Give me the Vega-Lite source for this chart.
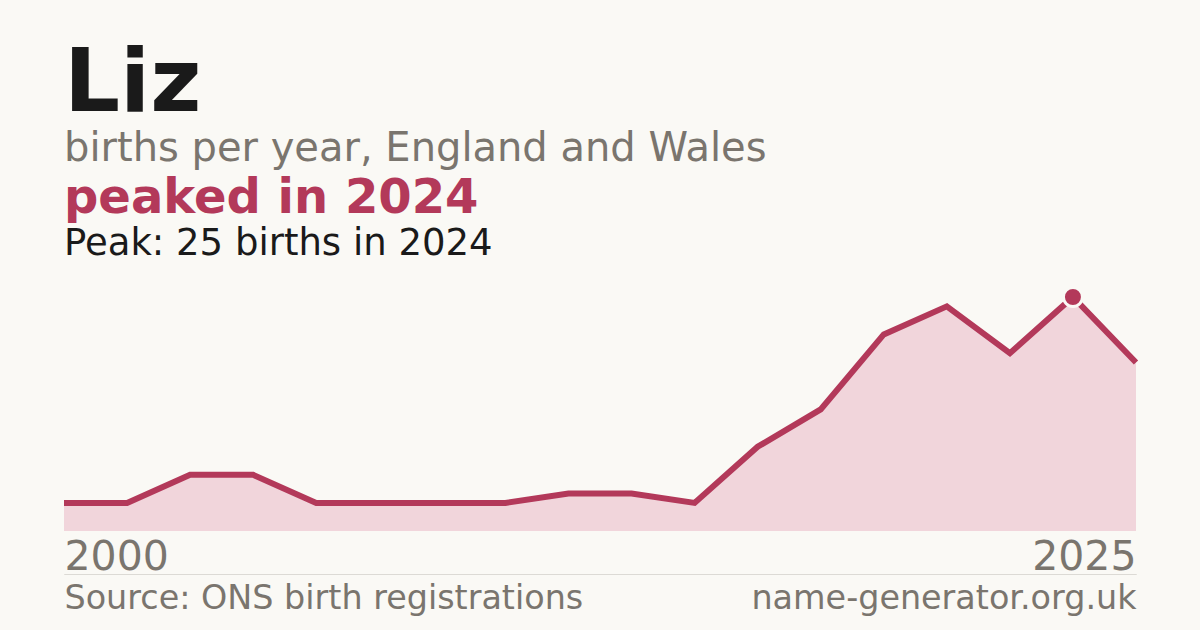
{
  "$schema": "https://vega.github.io/schema/vega-lite/v6.json",
  "background": "#faf9f5",
  "padding": {"left": 52, "right": 52, "top": 40, "bottom": 30},
  "config": {"font": "DejaVu Sans", "view": {"stroke": null}, "concat": {"spacing": 0}},
  "title": {
    "text": "Liz",
    "subtitle": "births per year, England and Wales",
    "anchor": "start",
    "dx": 12,
    "fontSize": 88,
    "fontWeight": "bold",
    "color": "#1a1a1a",
    "subtitleFontSize": 40,
    "subtitleColor": "#7a756e",
    "subtitleFont": "DejaVu Sans",
    "subtitlePadding": 0,
    "offset": 6
  },
  "data": {
    "values": [
      {"year": 2000, "births": 3},
      {"year": 2002, "births": 3},
      {"year": 2003, "births": 6},
      {"year": 2005, "births": 6},
      {"year": 2006, "births": 3},
      {"year": 2008, "births": 3},
      {"year": 2009, "births": 3},
      {"year": 2011, "births": 3},
      {"year": 2012, "births": 4},
      {"year": 2014, "births": 4},
      {"year": 2015, "births": 3},
      {"year": 2017, "births": 9},
      {"year": 2018, "births": 13},
      {"year": 2020, "births": 21},
      {"year": 2021, "births": 24},
      {"year": 2023, "births": 19},
      {"year": 2024, "births": 25},
      {"year": 2025, "births": 18}
    ]
  },
  "vconcat": [
    {
      "width": 1072,
      "height": 234,
      "title": {
        "text": "peaked in 2024",
        "subtitle": "Peak: 25 births in 2024",
        "anchor": "start",
        "dx": 12,
        "fontSize": 48,
        "fontWeight": "bold",
        "color": "#b3395a",
        "subtitleFontSize": 37,
        "subtitleColor": "#1a1a1a",
        "subtitleFont": "DejaVu Sans",
        "subtitlePadding": 3,
        "offset": 20
      },
      "encoding": {
        "y": {"field": "births", "type": "quantitative", "scale": {"domain": [0, 25], "nice": false, "zero": true}, "axis": null}
      },
      "layer": [
        {
          "mark": {"type": "area", "color": "#f1d5db", "opacity": 1},
          "encoding": {
            "x": {
              "field": "year", "type": "ordinal",
              "scale": {"type": "point", "padding": 0},
              "axis": {
                "orient": "bottom",
                "values": [2000, 2025],
                "domain": false, "ticks": false, "tickSize": 0, "grid": false,
                "labelFontSize": 41, "labelColor": "#7a756e",
                "labelBaseline": "alphabetic", "labelPadding": 38, "labelAngle": 0,
                "labelOverlap": false,
                "labelAlign": {"condition": {"test": "datum.value == 2000", "value": "left"}, "value": "right"},
                "title": null
              }
            }
          }
        },
        {
          "mark": {"type": "line", "color": "#b3395a", "strokeWidth": 6},
          "encoding": {
            "x": {
              "field": "year", "type": "ordinal",
              "scale": {"type": "point", "padding": 0},
              "axis": {
                "orient": "bottom", "offset": 43,
                "labels": false, "ticks": false, "tickSize": 0, "grid": false,
                "domain": true, "domainColor": "#dcdad5", "domainWidth": 1,
                "title": "Source: ONS birth registrations",
                "titleAnchor": "start", "titleAlign": "left",
                "titleFontSize": 33.4, "titleFontWeight": "normal", "titleColor": "#7a756e",
                "titleBaseline": "alphabetic", "titlePadding": 34
              }
            }
          }
        },
        {
          "transform": [{"filter": "datum.year == 2024"}],
          "mark": {"type": "point", "filled": true, "size": 361, "fill": "#b3395a", "stroke": "#faf9f5", "strokeWidth": 3, "opacity": 1},
          "encoding": {
            "x": {
              "field": "year", "type": "ordinal",
              "scale": {"type": "point", "padding": 0},
              "axis": {
                "orient": "bottom", "offset": 43,
                "labels": false, "ticks": false, "tickSize": 0, "grid": false,
                "domain": true, "domainColor": "#dcdad5", "domainWidth": 1,
                "title": "name-generator.org.uk",
                "titleAnchor": "end", "titleAlign": "right",
                "titleFontSize": 33.4, "titleFontWeight": "normal", "titleColor": "#7a756e",
                "titleBaseline": "alphabetic", "titlePadding": 34
              }
            }
          }
        }
      ],
      "resolve": {"axis": {"x": "independent"}}
    }
  ]
}
